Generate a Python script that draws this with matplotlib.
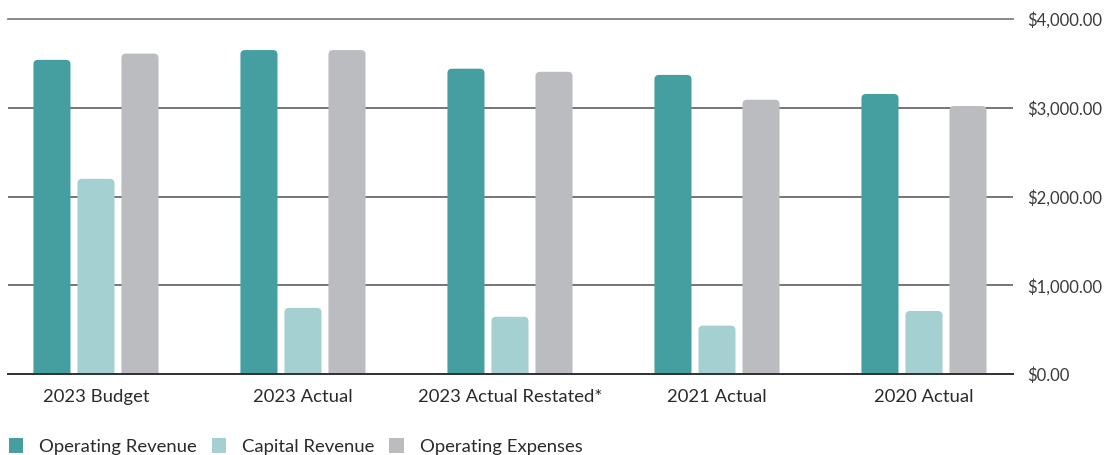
import numpy as np
from matplotlib import pyplot as plt
from matplotlib.patches import FancyBboxPatch, Patch
from matplotlib.ticker import FuncFormatter

# Categories and series
categories = ["2023 Budget", "2023 Actual", "2023 Actual Restated*", "2021 Actual", "2020 Actual"]
operating_revenue = [3540, 3650, 3440, 3370, 3155]
capital_revenue = [2200, 745, 645, 545, 710]
operating_expenses = [3610, 3650, 3405, 3090, 3020]

series_names = ["Operating Revenue", "Capital Revenue", "Operating Expenses"]
colors = ["#459fa0", "#a5d0d1", "#bbbcc0"]

plt.rcParams['font.family'] = ['Lato', 'DejaVu Sans']

W, H = 1119, 455
fig = plt.figure(figsize=(W / 100, H / 100), dpi=100)
ax = fig.add_axes([8 / W, (H - 374) / H, (1013 - 8) / W, (374 - 19) / H])

ymax = 4000
ax.set_ylim(0, ymax)
ax.set_xlim(-0.425, 4.43)

bar_w = 0.179
offset = 0.2126
x = np.arange(len(categories))

# px per data unit, for rounded corners that look circular
px_x = (1013 - 8) / (4.43 + 0.425)
px_y = (374 - 19) / ymax
radius = 4.5 / px_x

for i, vals in enumerate([operating_revenue, capital_revenue, operating_expenses]):
    for xc, v in zip(x + (i - 1) * offset, vals):
        extra = 6 / px_y  # push the bottom corners below zero so they get clipped
        patch = FancyBboxPatch((xc - bar_w / 2, -extra), bar_w, v + extra,
                               boxstyle="round,pad=0,rounding_size=%f" % radius,
                               mutation_aspect=px_x / px_y,
                               facecolor=colors[i], edgecolor='none', zorder=3)
        ax.add_patch(patch)

# gridlines
for yv in [1000, 2000, 3000]:
    ax.axhline(yv, color='#505050', lw=1.1, zorder=1)
ax.axhline(ymax, color='#808080', lw=1.3, zorder=1, clip_on=False)
ax.axhline(0, color='#303030', lw=1.4, zorder=4, clip_on=False)

for s in ax.spines.values():
    s.set_visible(False)

ax.yaxis.tick_right()
ax.set_yticks([0, 1000, 2000, 3000, 4000])
ax.yaxis.set_major_formatter(FuncFormatter(lambda v, p: "${:,.2f}".format(v)))
ax.tick_params(axis='y', which='both', length=0, pad=10, labelsize=12, labelcolor='#3a3a3a')
ax.set_xticks(x)
ax.set_xticklabels(categories)
ax.tick_params(axis='x', length=0, pad=11, labelsize=13.3, labelcolor='#2a2a2a')

handles = [Patch(facecolor=c, edgecolor='none') for c in colors]
fig.legend(handles, series_names, loc='lower left', bbox_to_anchor=(3 / W, -0.012),
           ncol=3, frameon=False, fontsize=13.3, handlelength=0.8, handleheight=0.8,
           handletextpad=0.85, columnspacing=0.8, borderaxespad=0.0, borderpad=0.3,
           labelcolor='#2a2a2a')

plt.savefig('out.png', dpi=100)
